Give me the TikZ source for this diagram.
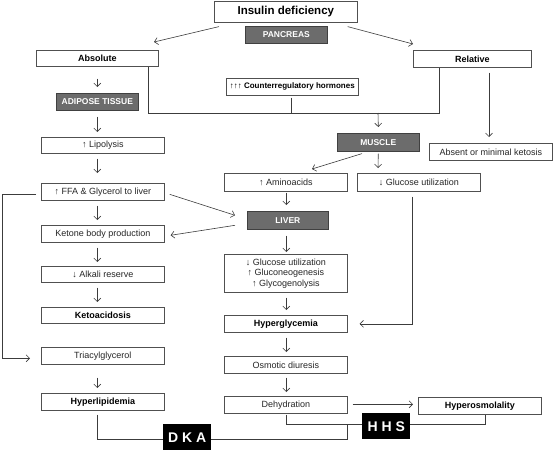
\documentclass[tikz,border=0pt]{standalone}
\usepackage{fontspec}
\setmainfont{Liberation Sans}
\usetikzlibrary{arrows.meta,calc}
\definecolor{boxline}{HTML}{505050}
\definecolor{conn}{HTML}{3C3C3C}
\definecolor{grayfill}{HTML}{6C6C6C}
\newcommand\bx[7]{\node[#6, anchor=north west, minimum width={(#4-#2)*1pt}, minimum height={(#5-#3)*1pt}] (#1) at (#2,#3) {#7};}
\tikzset{
  box/.style={draw=boxline, line width=0.6pt, fill=white, inner sep=0pt, text=black!85, font=\fontsize{9}{10.5}\selectfont},
  bbox/.style={box, text=black, font=\fontsize{9}{10.5}\selectfont\bfseries},
  gbox/.style={draw=black!75, line width=0.6pt, fill=grayfill, inner sep=0pt, text=white, font=\fontsize{8.5}{10}\selectfont\bfseries},
  kbox/.style={fill=black, inner sep=0pt, text=white, font=\fontsize{14}{14}\selectfont\bfseries},
  arr/.style={draw=conn, line width=0.6pt, -{Straight Barb[length=3.5pt,width=7pt]}},
  ln/.style={draw=conn, line width=0.6pt}
}
\begin{document}
\begin{tikzpicture}[x=1pt,y=-1pt]
\useasboundingbox (0,0) rectangle (553,450);
% boxes
\bx{ins}{214}{1}{357}{22}{box, text=black, font=\fontsize{11.5}{13}\selectfont\bfseries}{Insulin deficiency}
\bx{pan}{245}{26}{327}{43}{gbox}{PANCREAS}
\bx{abs}{36}{50}{158}{66}{bbox}{Absolute}
\bx{rel}{413}{50}{531}{67}{bbox}{Relative}
\bx{adi}{56}{93}{138}{110}{gbox}{ADIPOSE TISSUE}
\bx{cnt}{226}{78}{358}{95}{box, text=black, font=\fontsize{8}{9.5}\selectfont\bfseries}{↑↑↑ Counterregulatory hormones}
\bx{mus}{337}{133}{419}{151}{gbox}{MUSCLE}
\bx{abt}{429}{143}{552}{160}{box}{Absent or minimal ketosis}
\bx{ami}{224}{173}{347}{191}{box}{↑ Aminoacids}
\bx{glu}{357}{173}{480}{191}{box}{↓ Glucose utilization}
\bx{liv}{247}{211}{328}{229}{gbox}{LIVER}
\bx{leff}{224}{254}{347}{292}{box, align=center}{↓ Glucose utilization\\ ↑ Gluconeogenesis\\ ↑ Glycogenolysis}
\bx{lip}{41}{137}{164}{153}{box}{↑ Lipolysis}
\bx{ffa}{41}{183}{164}{200}{box}{↑ FFA \& Glycerol to liver}
\bx{ket}{41}{225}{164}{242}{box}{Ketone body production}
\bx{alk}{41}{266}{164}{282}{box}{↓ Alkali reserve}
\bx{keto}{41}{307}{164}{323}{bbox}{Ketoacidosis}
\bx{tri}{41}{347}{164}{364}{box}{Triacylglycerol}
\bx{hlip}{41}{393}{164}{410}{bbox}{Hyperlipidemia}
\bx{hgly}{224}{315}{347}{332}{bbox}{Hyperglycemia}
\bx{osm}{224}{356}{347}{373}{box}{Osmotic diuresis}
\bx{deh}{224}{396}{347}{413}{box}{Dehydration}
\bx{hos}{418}{397}{541}{414}{bbox}{Hyperosmolality}
\bx{dka}{163}{424}{211}{450}{kbox}{D K A}
\bx{hhs}{362}{413}{410}{439}{kbox}{H H S}
% junction coordinates
\coordinate (jm) at (378,113);
\coordinate (jn) at (347,424);
% top arrows
\draw[arr] ([shift={(5,4)}]ins.south west) -- ([shift={(118,-8)}]abs.north west);
\draw[arr] ([shift={(-10,4)}]ins.south east) -- ([shift={(0,-6)}]rel.north west);
% hormone junction
\draw[ln] ([xshift=-10pt]abs.south east) -- ++(0,47) -| ([xshift=26pt]rel.south west);
\draw[ln] ([shift={(-1,2)}]cnt.south) -- ++(0,16);
\draw[arr] (jm) -- ([shift={(0,-6)}]mus.north);
\draw[arr] ([shift={(76,5)}]rel.south west) -- ([shift={(60,-6)}]abt.north west);
% left column
\draw[arr] ([shift={(0,12)}]abs.south) -- ([shift={(0,-6)}]adi.north);
\draw[arr] ([shift={(0,6)}]adi.south) -- ([shift={(-5.5,-5)}]lip.north);
\draw[arr] ([shift={(-5.5,5)}]lip.south) -- ([shift={(-5.5,-10)}]ffa.north);
\draw[arr] ([shift={(-5.5,5)}]ffa.south) -- ([shift={(-5.5,-5)}]ket.north);
\draw[arr] ([shift={(-5.5,5)}]ket.south) -- ([shift={(-5.5,-4)}]alk.north);
\draw[arr] ([shift={(-5.5,5)}]alk.south) -- ([shift={(-5.5,-5)}]keto.north);
\draw[arr] ([shift={(-5.5,13)}]tri.south) -- ([shift={(-5.5,-5)}]hlip.north);
\draw[arr] ([shift={(-5,2.5)}]ffa.west) -- ++(-34,0) |- ([shift={(-11,2.5)}]tri.west);
% liver links
\draw[arr] ([shift={(5,2.5)}]ffa.east) -- ([shift={(-12,-5)}]liv.west);
\draw[arr] ([shift={(-12,5)}]liv.west) -- ([shift={(6,1.5)}]ket.east);
% middle column
\draw[arr] ([shift={(25,2)}]mus.south west) -- ([shift={(88,-4)}]ami.north west);
\draw[arr] ([shift={(0,2)}]mus.south) -- ([shift={(21,-5)}]glu.north west);
\draw[arr] ([shift={(0.5,1)}]ami.south) -- ([shift={(-1.5,-6)}]liv.north);
\draw[arr] ([shift={(-1.5,6)}]liv.south) -- ([shift={(0.5,-2)}]leff.north);
\draw[arr] ([shift={(0.5,5)}]leff.south) -- ([shift={(0.5,-5)}]hgly.north);
\draw[arr] ([shift={(0.5,5)}]hgly.south) -- ([shift={(0.5,-4)}]osm.north);
\draw[arr] ([shift={(0.5,4)}]osm.south) -- ([shift={(0.5,-4)}]deh.north);
\draw[arr] ([shift={(55,5)}]glu.south west) |- ([shift={(12,0)}]hgly.east);
\draw[arr] ([shift={(5,-0.5)}]deh.east) -- ([shift={(-5,-1.5)}]hos.west);
% bottom
\draw[ln] ([shift={(-5.5,4)}]hlip.south) |- ([shift={(0,2)}]dka.west);
\draw[ln] ([shift={(0,2)}]dka.east) -| (jn);
\draw[ln] ([shift={(0.5,1)}]deh.south) |- ([shift={(0,-2)}]hhs.west);
\draw[ln] ([shift={(0,-2)}]hhs.east) -| ([shift={(5.5,0)}]hos.south);
\end{tikzpicture}
\end{document}
